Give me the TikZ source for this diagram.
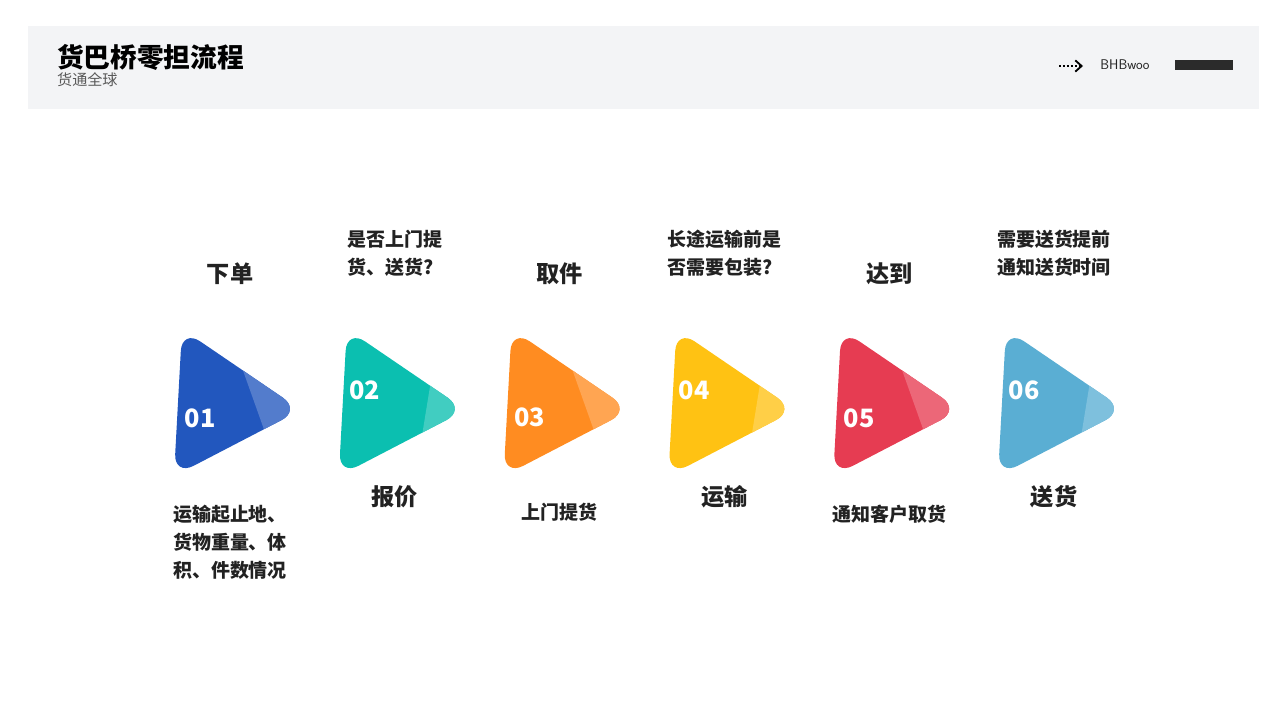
\documentclass[tikz,border=0pt]{standalone}
\usepackage{fontspec}
\setmainfont{Noto Sans CJK SC}
\usetikzlibrary{arrows.meta}
\definecolor{cA}{RGB}{34,87,190}
\definecolor{cB}{RGB}{11,191,176}
\definecolor{cC}{RGB}{255,140,33}
\definecolor{cD}{RGB}{255,194,19}
\definecolor{cE}{RGB}{230,60,82}
\definecolor{cF}{RGB}{90,174,211}
\definecolor{hdr}{RGB}{243,244,246}
\definecolor{ink}{RGB}{34,34,34}
\definecolor{bar}{RGB}{43,43,43}

\begin{document}
\begin{tikzpicture}[x=0.05cm,y=-0.05cm,
  lbl/.style={font=\bfseries\fontsize{27}{40}\selectfont,text=ink,align=left,inner sep=0},
  big/.style={font=\bfseries\fontsize{33}{40}\selectfont,text=ink,inner sep=0},
  num/.style={font=\bfseries\fontsize{36}{36}\selectfont,text=white,inner sep=0}]
\useasboundingbox (0,0) rectangle (1280,720);
% header
\fill[hdr] (28,26) rectangle (1259,109);
\node[anchor=west,inner sep=0,font=\bfseries\fontsize{38}{38}\selectfont] (title) at (57,57) {货巴桥零担流程};
\node[anchor=west,inner sep=0,text=ink!75,font=\fontsize{21.5}{21.5}\selectfont] (sub) at (57,80) {货通全球};
\coordinate (dotA) at (1059,66);
\coordinate (dotB) at (1083,66);
\draw[line width=2.6pt,dash pattern=on 2.6pt off 3pt,-{Straight Barb[length=9pt,width=16pt,line width=2.6pt]}] (dotA) -- (dotB);
\node[inner sep=0,text=ink,font=\sffamily\fontsize{20}{20}\selectfont] (brand) at (1125,65) {BHBwoo};
\fill[bar] (1175,60) rectangle (1233,70);
% triangles
\foreach \k/\col/\ny/\ta/\tb in {0/cA/418/225/282, 1/cB/390/276/250, 2/cC/417/225/282,
                                 3/cD/390/276/250, 4/cE/418/225/282, 5/cF/390/276/250}{
  \begin{scope}[shift={(\k*164.8,0)}]
    \begin{scope}
      \clip[rounded corners=1.1cm] (182,329) -- (301,410) -- (174,476) -- cycle;
      \fill[\col] (150,310) rectangle (320,490);
      \fill[\col!78!white] (\ta,320) -- (\tb,480) -- (320,480) -- (320,320) -- cycle;
    \end{scope}
    \pgfmathtruncatemacro\n{\k+1}
    \node[num] (n\k) at (200,\ny) {0\n};
  \end{scope}
}
% labels above
\node[big] (up0) at (230,274) {下单};
\node[lbl] (up1) at (394.8,253) {是否上门提\\货、送货?};
\node[big] (up2) at (559.6,274) {取件};
\node[lbl] (up3) at (724.4,253) {长途运输前是\\否需要包装?};
\node[big] (up4) at (889.2,274) {达到};
\node[lbl] (up5) at (1054,253) {需要送货提前\\通知送货时间};
% labels below
\node[lbl] (dn0) at (230,542) {运输起止地、\\货物重量、体\\积、件数情况};
\node[big] (dn1) at (394.8,497) {报价};
\node[lbl] (dn2) at (559.6,512) {上门提货};
\node[big] (dn3) at (724.4,497) {运输};
\node[lbl] (dn4) at (889.2,514) {通知客户取货};
\node[big] (dn5) at (1054,497) {送货};
\end{tikzpicture}
\end{document}
